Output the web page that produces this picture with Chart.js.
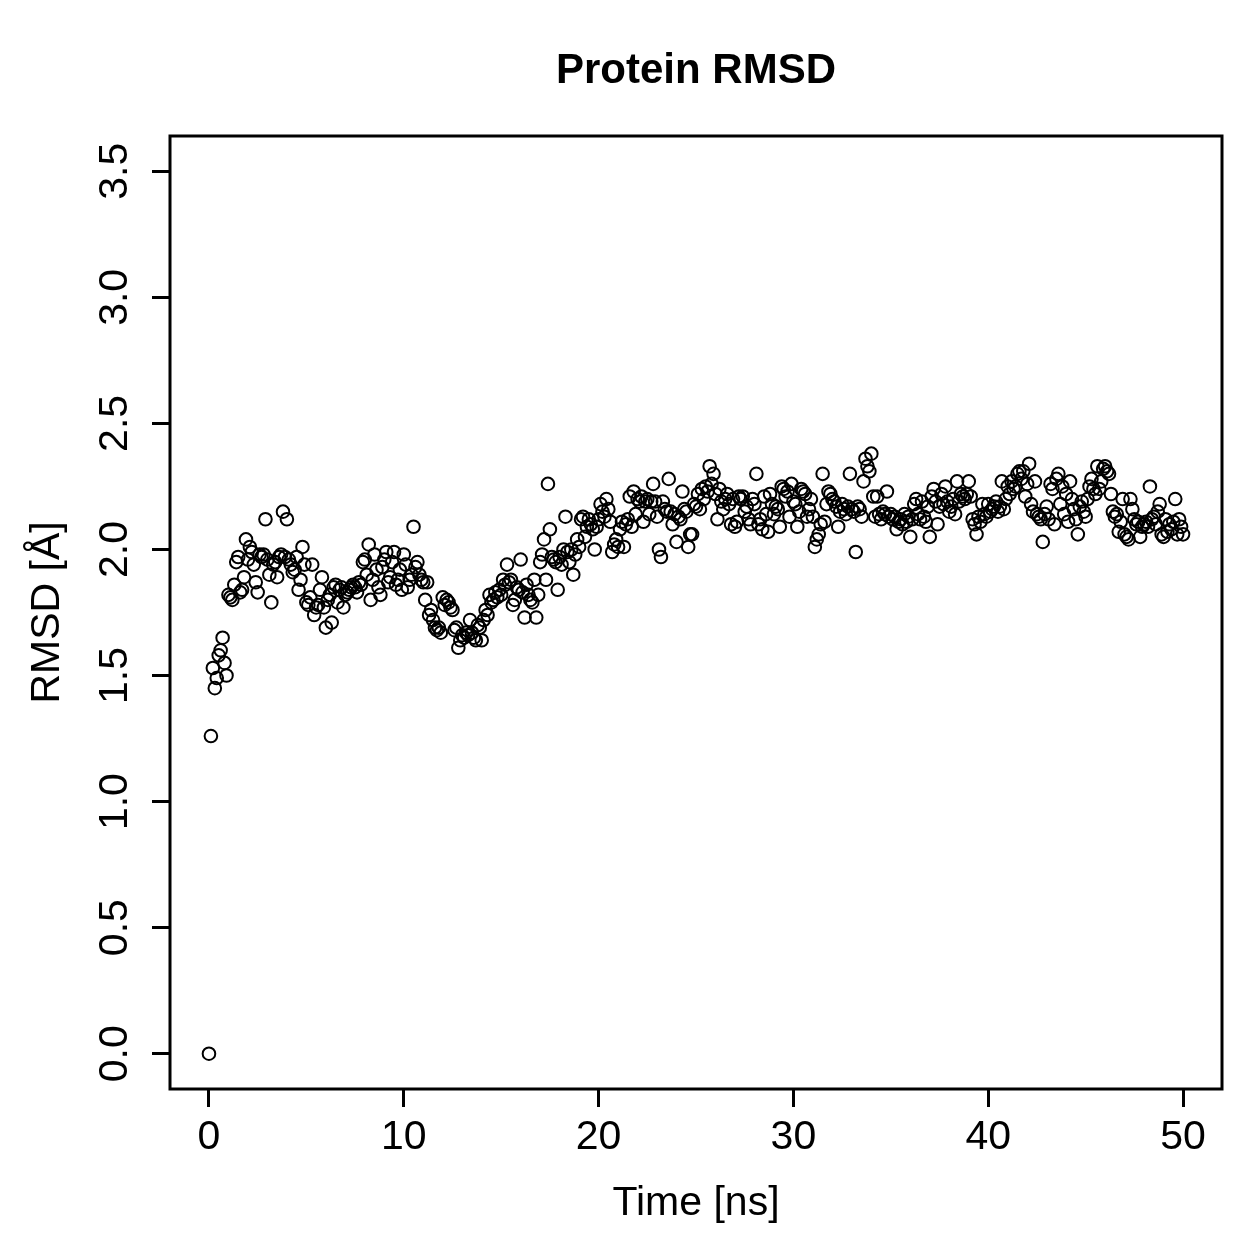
<!DOCTYPE html>
<html>
<head>
<meta charset="utf-8">
<script src="https://cdn.jsdelivr.net/npm/chart.js@4.4.1/dist/chart.umd.min.js"></script>
<style>
  html, body { margin: 0; padding: 0; background: #ffffff; }
  #wrap { width: 1259px; height: 1259px; }
</style>
</head>
<body>
<div id="wrap"><canvas id="c" width="1259" height="1259"></canvas></div>
<script>
const chartTitle = "Protein RMSD";
const xAxisTitle = "Time [ns]";
const yAxisTitle = "RMSD [Å]";
const timeStep = 0.1; // ns between frames
const xTicks = [0, 10, 20, 30, 40, 50];
const yTicks = [0.0, 0.5, 1.0, 1.5, 2.0, 2.5, 3.0, 3.5];
const xRange = [-2, 52];
const yRange = [-0.14, 3.64];

// RMSD values, one per frame (0.1 ns), rows of 1 ns
const rmsd = [
  0.00,1.26,1.53,1.45,1.49,1.58,1.60,1.65,1.55,1.50,
  1.82,1.81,1.80,1.86,1.95,1.97,1.83,1.84,1.89,2.04,
  1.96,2.01,1.99,1.94,1.87,1.83,1.98,1.97,1.98,2.12,
  1.96,1.90,1.79,1.94,1.95,1.89,1.97,1.98,2.15,1.97,
  2.12,1.96,1.94,1.91,1.92,1.97,1.84,1.88,2.01,1.94,
  1.79,1.78,1.81,1.94,1.74,1.77,1.78,1.84,1.89,1.77,
  1.69,1.80,1.82,1.71,1.85,1.86,1.79,1.84,1.85,1.77,
  1.82,1.83,1.84,1.85,1.86,1.85,1.83,1.87,1.86,1.95,
  1.96,1.90,2.02,1.80,1.88,1.98,1.92,1.85,1.82,1.93,
  1.96,1.99,1.87,1.89,1.95,1.99,1.86,1.88,1.92,1.84,
  1.98,1.94,1.85,1.88,1.90,2.09,1.93,1.95,1.90,1.88,
  1.87,1.80,1.87,1.74,1.76,1.72,1.69,1.68,1.69,1.67,
  1.81,1.78,1.80,1.79,1.77,1.76,1.68,1.69,1.61,1.64,
  1.66,1.65,1.67,1.66,1.72,1.67,1.65,1.64,1.70,1.69,
  1.64,1.72,1.76,1.74,1.82,1.79,1.80,1.83,1.81,1.84,
  1.82,1.88,1.86,1.94,1.87,1.88,1.78,1.80,1.85,1.84,
  1.96,1.83,1.73,1.86,1.82,1.80,1.79,1.88,1.73,1.82,
  1.95,1.98,2.04,1.88,2.26,2.08,1.97,1.96,1.95,1.84,
  1.97,1.94,2.00,2.13,1.99,1.95,2.00,1.90,1.98,2.04,
  2.01,2.12,2.13,2.05,2.09,2.12,2.10,2.08,2.00,2.09,
  2.12,2.18,2.15,2.13,2.20,2.16,2.11,1.99,2.02,2.04,
  2.01,2.08,2.11,2.01,2.10,2.12,2.21,2.09,2.23,2.14,
  2.20,2.19,2.21,2.11,2.19,2.20,2.14,2.19,2.26,2.19,
  2.13,2.00,1.97,2.19,2.16,2.15,2.28,2.15,2.10,2.14,
  2.03,2.13,2.12,2.23,2.16,2.15,2.01,2.06,2.06,2.18,
  2.17,2.22,2.16,2.24,2.20,2.25,2.23,2.33,2.26,2.30,
  2.22,2.12,2.24,2.19,2.16,2.20,2.22,2.18,2.10,2.20,
  2.09,2.11,2.21,2.20,2.21,2.15,2.17,2.12,2.10,2.20,
  2.18,2.30,2.10,2.12,2.08,2.21,2.14,2.07,2.22,2.18,
  2.14,2.17,2.16,2.09,2.25,2.24,2.21,2.23,2.13,2.26,
  2.19,2.18,2.09,2.15,2.24,2.23,2.22,2.13,2.16,2.20,
  2.13,2.01,2.04,2.06,2.10,2.30,2.11,2.18,2.23,2.22,
  2.20,2.19,2.17,2.09,2.15,2.18,2.16,2.14,2.17,2.30,
  2.16,2.15,1.99,2.17,2.16,2.13,2.27,2.36,2.33,2.31,
  2.38,2.21,2.13,2.21,2.14,2.12,2.15,2.14,2.23,2.13,
  2.14,2.12,2.13,2.08,2.11,2.12,2.10,2.14,2.11,2.13,
  2.05,2.12,2.18,2.20,2.14,2.12,2.19,2.13,2.11,2.17,
  2.05,2.21,2.24,2.19,2.10,2.17,2.22,2.18,2.25,2.19,
  2.15,2.17,2.20,2.14,2.27,2.19,2.22,2.21,2.20,2.22,
  2.27,2.21,2.12,2.10,2.06,2.13,2.11,2.18,2.14,2.13,
  2.18,2.15,2.16,2.17,2.19,2.15,2.17,2.27,2.16,2.20,
  2.25,2.22,2.27,2.24,2.25,2.30,2.31,2.28,2.31,2.21,
  2.26,2.34,2.18,2.15,2.27,2.14,2.13,2.12,2.03,2.14,
  2.17,2.12,2.26,2.24,2.10,2.28,2.30,2.18,2.25,2.14,
  2.22,2.11,2.27,2.20,2.16,2.12,2.06,2.17,2.19,2.15,
  2.13,2.20,2.25,2.28,2.24,2.22,2.33,2.24,2.27,2.32,
  2.33,2.31,2.30,2.22,2.15,2.13,2.14,2.07,2.11,2.20,
  2.06,2.05,2.04,2.20,2.16,2.12,2.10,2.11,2.05,2.09,
  2.10,2.11,2.09,2.25,2.12,2.13,2.10,2.15,2.18,2.06,
  2.05,2.12,2.07,2.10,2.08,2.11,2.20,2.06,2.12,2.09,
  2.06
];

const points = rmsd.map((v, i) => ({ x: Math.round(i * timeStep * 10) / 10, y: v }));

const FONT = "'Liberation Sans', Arial, Helvetica, sans-serif";
const AXIS_SIZE = 41;

const framePlugin = {
  id: 'frame',
  afterDraw(chart) {
    const { ctx, chartArea } = chart;
    ctx.save();
    ctx.strokeStyle = '#000';
    ctx.lineWidth = 3;
    ctx.strokeRect(chartArea.left, chartArea.top, chartArea.right - chartArea.left, chartArea.bottom - chartArea.top);
    ctx.fillStyle = '#000';
    ctx.font = "bold 42px " + FONT;
    ctx.textAlign = 'center';
    ctx.textBaseline = 'middle';
    ctx.fillText(chartTitle, (chartArea.left + chartArea.right) / 2, 71);
    ctx.restore();
  }
};

new Chart(document.getElementById('c'), {
  type: 'scatter',
  data: {
    datasets: [{
      data: points,
      showLine: false,
      pointStyle: 'circle',
      pointRadius: 6.3,
      pointHoverRadius: 6.3,
      pointBorderWidth: 2.0,
      borderColor: '#000',
      backgroundColor: 'rgba(0,0,0,0)',
      pointBackgroundColor: 'rgba(0,0,0,0)'
    }]
  },
  options: {
    responsive: false,
    animation: false,
    events: [],
    layout: { padding: { top: 136, right: 37, left: 0, bottom: 0 } },
    plugins: { legend: { display: false }, tooltip: { enabled: false }, title: { display: false } },
    scales: {
      x: {
        type: 'linear',
        min: xRange[0], max: xRange[1],
        afterBuildTicks(scale) { scale.ticks = xTicks.map(v => ({ value: v })); },
        afterFit(scale) { scale.height = 170; },
        border: { display: false },
        grid: { drawOnChartArea: false, drawTicks: true, tickLength: 18, color: '#000', lineWidth: 3 },
        ticks: {
          autoSkip: false, maxRotation: 0, minRotation: 0, padding: 6,
          color: '#000', font: { family: FONT, size: AXIS_SIZE },
          callback: v => String(v)
        },
        title: { display: true, text: xAxisTitle, color: '#000', font: { family: FONT, size: AXIS_SIZE }, padding: { top: 0, bottom: 31 } }
      },
      y: {
        type: 'linear',
        min: yRange[0], max: yRange[1],
        afterBuildTicks(scale) { scale.ticks = yTicks.map(v => ({ value: v })); },
        afterFit(scale) { scale.width = 170; },
        border: { display: false },
        grid: { drawOnChartArea: false, drawTicks: true, tickLength: 18, color: '#000', lineWidth: 3 },
        ticks: {
          autoSkip: false, minRotation: 90, maxRotation: 90, crossAlign: 'center', padding: 8,
          color: '#000', font: { family: FONT, size: AXIS_SIZE },
          callback: v => Number(v).toFixed(1)
        },
        title: { display: true, text: yAxisTitle, color: '#000', font: { family: FONT, size: AXIS_SIZE }, padding: { top: 23, bottom: 0 } }
      }
    }
  },
  plugins: [framePlugin]
});
</script>
</body>
</html>
